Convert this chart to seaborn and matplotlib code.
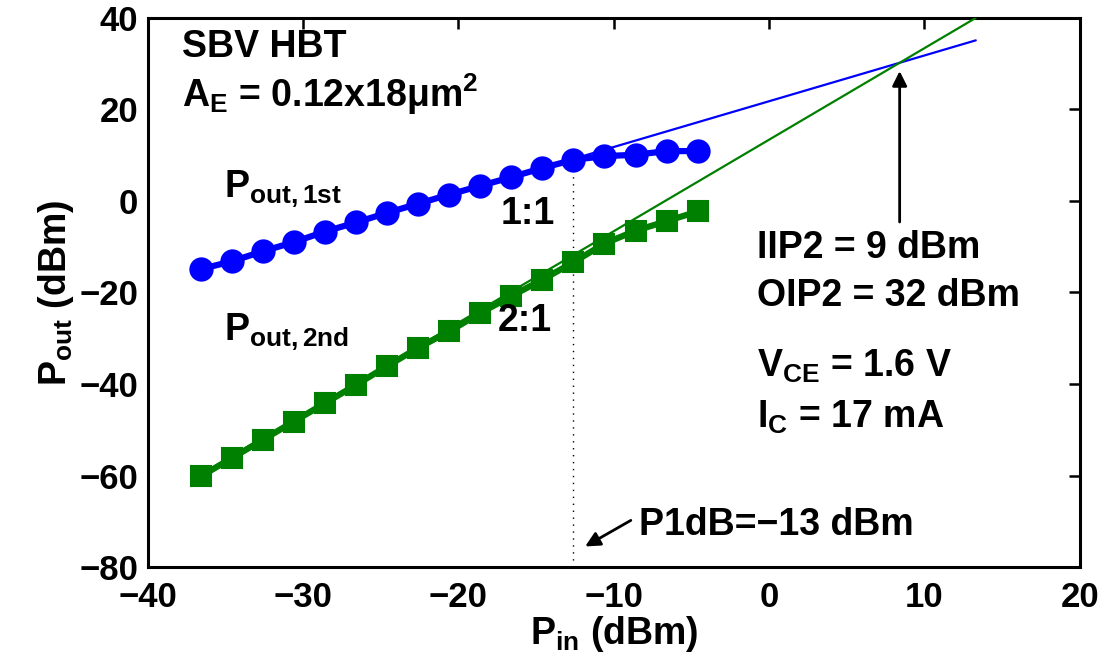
import numpy as np
import pandas as pd
import matplotlib
matplotlib.use("Agg")
import matplotlib.pyplot as plt
import seaborn as sns

# ---- data ----
pin = [-36.6, -34.6, -32.6, -30.6, -28.6, -26.6, -24.6, -22.6, -20.6,
       -18.6, -16.6, -14.6, -12.6, -10.6, -8.6, -6.6, -4.6]
pout_1st = [-14.9, -13.2, -11.0, -9.0, -6.7, -4.7, -2.6, -0.6, 1.4,
            3.3, 5.2, 7.2, 9.0, 9.8, 10.1, 10.9, 10.9]
pout_2nd = [-60.2, -56.2, -52.2, -48.2, -44.2, -40.2, -36.1, -32.1, -28.5,
            -24.5, -20.8, -17.2, -13.4, -9.3, -6.5, -4.4, -2.3]
ext_x = [-36.6, 13.3]
ext_1st = [-14.8, 35.1]
ext_2nd = [-59.8, 40.0]
p1db_x = -12.6
xticks = [-40, -30, -20, -10, 0, 10, 20]
yticks = [-80, -60, -40, -20, 0, 20, 40]

sns.set_theme(style="white")
plt.rcParams["font.family"] = ["Liberation Sans", "DejaVu Sans"]
plt.rcParams["font.weight"] = "bold"
plt.rcParams["text.color"] = "black"
plt.rcParams["axes.labelcolor"] = "black"
plt.rcParams["xtick.color"] = "black"
plt.rcParams["ytick.color"] = "black"
plt.rcParams["mathtext.fontset"] = "custom"
plt.rcParams["mathtext.rm"] = "Liberation Sans:bold"
plt.rcParams["mathtext.it"] = "Liberation Sans:bold"
plt.rcParams["mathtext.bf"] = "Liberation Sans:bold"
plt.rcParams["mathtext.sf"] = "Liberation Sans:bold"

BLUE = (0, 0, 1)
GREEN = (0, 0.5, 0)

fig = plt.figure(figsize=(11.03, 6.64), dpi=100)
ax = fig.add_axes([0.134, 0.146, 0.845, 0.827])

df1 = pd.DataFrame({"x": pin, "y": pout_1st})
df2 = pd.DataFrame({"x": pin, "y": pout_2nd})

sns.lineplot(data=pd.DataFrame({"x": ext_x, "y": ext_1st}), x="x", y="y",
             ax=ax, color=BLUE, linewidth=1.6, zorder=3)
sns.lineplot(data=pd.DataFrame({"x": ext_x, "y": ext_2nd}), x="x", y="y",
             ax=ax, color=GREEN, linewidth=1.6, zorder=3)
sns.lineplot(data=df1, x="x", y="y", ax=ax, color=BLUE, linewidth=4.5,
             marker="o", markersize=16, markeredgecolor=BLUE,
             markeredgewidth=1.5, zorder=2)
sns.lineplot(data=df2, x="x", y="y", ax=ax, color=GREEN, linewidth=4.5,
             marker="s", markersize=14, markeredgecolor=GREEN,
             markeredgewidth=1.5, zorder=2)

ax.plot([p1db_x, p1db_x], [-80, 10.5], color="black", linestyle=(0, (1, 4)),
        linewidth=1.0, zorder=1)

ax.set_xlim(-40, 20)
ax.set_ylim(-80, 40)
ax.set_xticks(xticks)
ax.set_yticks(yticks)
ax.set_xticklabels([str(t).replace("-", "\u2212") for t in xticks])
ax.set_yticklabels([str(t).replace("-", "\u2212") for t in yticks])
ax.tick_params(direction="in", length=8, width=1.8, top=True, right=True,
               labelsize=25, colors="black")
ax.tick_params(axis="x", pad=10)
ax.tick_params(axis="y", pad=7)
for lab in ax.get_xticklabels() + ax.get_yticklabels():
    lab.set_fontweight("bold")
for s in ax.spines.values():
    s.set_linewidth(2.2)
    s.set_color("black")
    s.set_visible(True)

ax.set_xlabel(r"$\mathbf{P_{in}}$ (dBm)", fontsize=27, fontweight="bold",
              labelpad=0, color="black")
ax.set_ylabel(r"$\mathbf{P_{out}}$ (dBm)", fontsize=27, fontweight="bold",
              labelpad=2, color="black")

fs = 27
kw = dict(fontsize=fs, fontweight="bold", va="center", color="black")
ax.text(-37.8, 33.6, "SBV HBT", **kw)
ax.text(-37.8, 23.3, r"$\mathbf{A_E}$ = 0.12x18$\mathbf{\mu}$m$\mathbf{^2}$", **kw)
ax.text(-35.1, 2.6, r"$\mathbf{P_{out,1st}}$", **kw)
ax.text(-35.1, -28.7, r"$\mathbf{P_{out,2nd}}$", **kw)
ax.text(-17.3, -2.8, "1:1", **kw)
ax.text(-17.5, -26.2, "2:1", **kw)
ax.text(-0.8, -10.3, "IIP2 = 9 dBm", **kw)
ax.text(-0.8, -20.8, "OIP2 = 32 dBm", **kw)
ax.text(-0.8, -36.2, r"$\mathbf{V_{CE}}$ = 1.6 V", **kw)
ax.text(-0.8, -47.3, r"$\mathbf{I_C}$ = 17 mA", **kw)
ax.text(-8.4, -70.8, "P1dB=\u221213 dBm", **kw)

ax.annotate("", xy=(8.4, 29.0), xytext=(8.4, -5.2),
            arrowprops=dict(arrowstyle="-|>", color="black", lw=2,
                            mutation_scale=22))
ax.annotate("", xy=(-12.0, -75.8), xytext=(-8.75, -69.5),
            arrowprops=dict(arrowstyle="-|>", color="black", lw=2,
                            mutation_scale=22))

fig.savefig("out.png", dpi=100)
